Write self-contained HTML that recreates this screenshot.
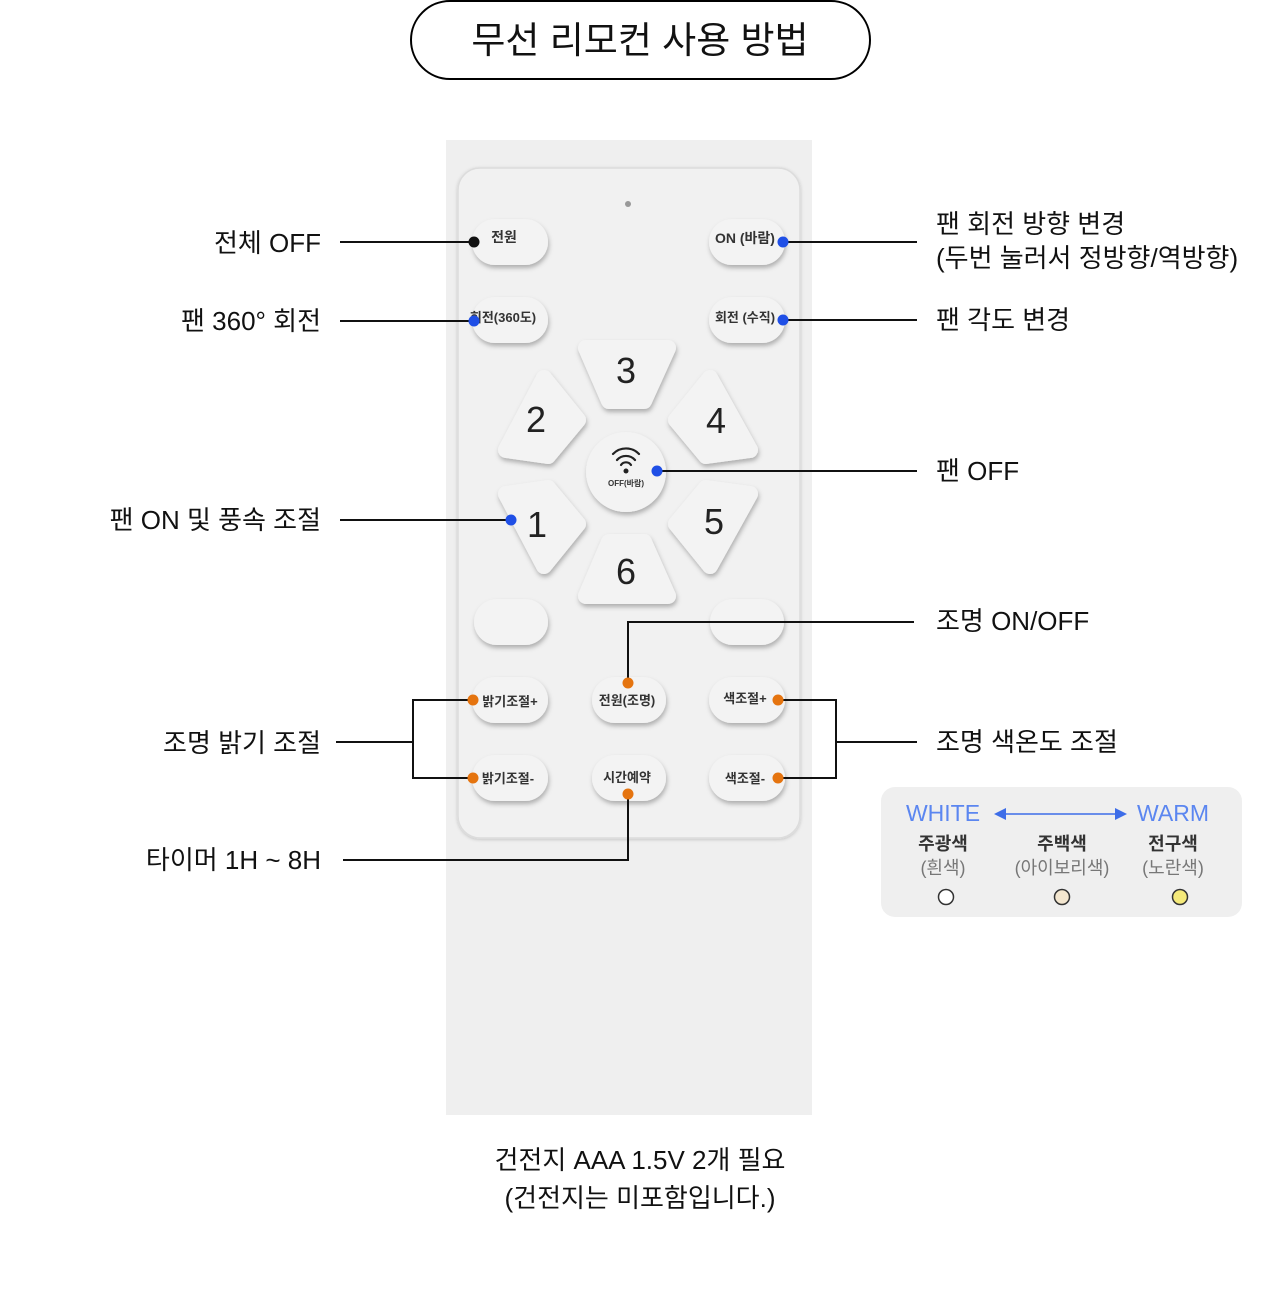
<!DOCTYPE html>
<html><head><meta charset="utf-8"><style>
html,body{margin:0;padding:0;background:#fff;}
svg{display:block;}
text{font-family:"Liberation Sans","Noto Sans CJK KR",sans-serif;}
</style></head><body>
<svg width="1280" height="1314" viewBox="0 0 1280 1314" xmlns="http://www.w3.org/2000/svg">
<defs>
<filter id="sh" x="-30%" y="-30%" width="160%" height="170%"><feDropShadow dx="1" dy="3" stdDeviation="2.5" flood-color="#000" flood-opacity="0.28"/></filter>
<filter id="sh2" x="-5%" y="-5%" width="110%" height="110%"><feDropShadow dx="0" dy="1" stdDeviation="1.5" flood-color="#000" flood-opacity="0.18"/></filter>
</defs>
<!-- title -->
<rect x="411" y="1" width="459" height="78" rx="39" fill="#fff" stroke="#000" stroke-width="2"/>
<text x="640" y="53" font-size="37" text-anchor="middle" fill="#111">무선 리모컨 사용 방법</text>

<!-- remote body -->
<rect x="446" y="140" width="366" height="975" fill="#efefef"/>
<rect x="458" y="168" width="342" height="670" rx="22" fill="#f1f1f1" stroke="#dcdcdc" stroke-width="1.5" filter="url(#sh2)"/>
<circle cx="628" cy="204" r="3" fill="#999"/>

<g fill="#f3f3f3" filter="url(#sh)">
<rect x="472" y="219" width="76" height="46" rx="23"/>
<rect x="709" y="219" width="76" height="46" rx="23"/>
<rect x="472" y="297" width="76" height="46" rx="23"/>
<rect x="709" y="297" width="76" height="46" rx="23"/>
<rect x="474" y="599" width="74" height="46" rx="23"/>
<rect x="710" y="599" width="74" height="46" rx="23"/>
<rect x="472" y="677" width="76" height="46" rx="23"/>
<rect x="592" y="677" width="74" height="46" rx="23"/>
<rect x="709" y="677" width="76" height="46" rx="23"/>
<rect x="472" y="755" width="76" height="46" rx="23"/>
<rect x="592" y="755" width="74" height="46" rx="23"/>
<rect x="709" y="755" width="76" height="46" rx="23"/>
<g stroke="#f3f3f3" stroke-width="16" stroke-linejoin="round">
<polygon points="586,348 668,348 644,401 609,401"/>
<polygon points="609,542 644,542 668,596 586,596"/>
<polygon points="544,378 578,420 548,456 506,450"/>
<polygon points="710,378 676,420 706,456 750,450"/>
<polygon points="506,494 548,488 578,524 544,566"/>
<polygon points="750,494 706,488 676,524 710,566"/>
</g>
<circle cx="626" cy="472" r="40"/>
</g>
<g font-size="14" font-weight="bold" fill="#333" text-anchor="middle">
<text x="504" y="242">전원</text>
<text x="745" y="243">ON (바람)</text>
<text x="503" y="322" font-size="13">회전(360도)</text>
<text x="745" y="322" font-size="13">회전 (수직)</text>
<text x="510" y="706" font-size="13">밝기조절+</text>
<text x="627" y="705" font-size="13">전원(조명)</text>
<text x="745" y="703" font-size="13">색조절+</text>
<text x="508" y="783" font-size="13">밝기조절-</text>
<text x="627" y="782" font-size="13">시간예약</text>
<text x="745" y="783" font-size="13">색조절-</text>
<text x="626" y="486" font-size="8">OFF(바람)</text>
</g>
<g font-size="36" fill="#222" text-anchor="middle">
<text x="626" y="383">3</text>
<text x="536" y="432">2</text>
<text x="716" y="433">4</text>
<text x="537" y="537">1</text>
<text x="714" y="534">5</text>
<text x="626" y="584">6</text>
</g>
<g fill="none" stroke="#222" stroke-width="2.2" stroke-linecap="round">
<path d="M613,454 a18,18 0 0 1 26,0"/>
<path d="M617,460 a12,12 0 0 1 18,0"/>
<path d="M621,465 a6,6 0 0 1 10,0"/>
</g>
<circle cx="626" cy="471" r="2.5" fill="#222"/>

<!-- connectors -->
<g stroke="#111" stroke-width="2" fill="none">
<line x1="340" y1="242" x2="474" y2="242"/>
<line x1="783" y1="242" x2="917" y2="242"/>
<line x1="340" y1="321" x2="474" y2="321"/>
<line x1="783" y1="320" x2="917" y2="320"/>
<line x1="657" y1="471" x2="917" y2="471"/>
<line x1="340" y1="520" x2="511" y2="520"/>
<polyline points="628,683 628,622 914,622"/>
<polyline points="473,700 413,700 413,778 473,778"/>
<line x1="336" y1="742" x2="413" y2="742"/>
<polyline points="778,700 836,700 836,778 778,778"/>
<line x1="836" y1="742" x2="917" y2="742"/>
<polyline points="628,794 628,860 343,860"/>
</g>
<circle cx="474" cy="242" r="5.5" fill="#111"/>
<g fill="#1f4fe6">
<circle cx="783" cy="242" r="5.5"/><circle cx="474" cy="321" r="5.5"/><circle cx="783" cy="320" r="5.5"/>
<circle cx="657" cy="471" r="5.5"/><circle cx="511" cy="520" r="5.5"/>
</g>
<g fill="#e5740f">
<circle cx="628" cy="683" r="5.5"/><circle cx="473" cy="700" r="5.5"/><circle cx="473" cy="778" r="5.5"/>
<circle cx="778" cy="700" r="5.5"/><circle cx="778" cy="778" r="5.5"/><circle cx="628" cy="794" r="5.5"/>
</g>

<!-- labels -->
<g font-size="26" fill="#111">
<g text-anchor="end">
<text x="321" y="252">전체 OFF</text>
<text x="321" y="330">팬 360° 회전</text>
<text x="321" y="529">팬 ON 및 풍속 조절</text>
<text x="321" y="752">조명 밝기 조절</text>
<text x="321" y="869">타이머 1H ~ 8H</text>
</g>
<text x="936" y="233">팬 회전 방향 변경</text>
<text x="936" y="267">(두번 눌러서 정방향/역방향)</text>
<text x="936" y="329">팬 각도 변경</text>
<text x="936" y="480">팬 OFF</text>
<text x="936" y="630">조명 ON/OFF</text>
<text x="936" y="751">조명 색온도 조절</text>
</g>

<!-- color legend -->
<rect x="881" y="787" width="361" height="130" rx="14" fill="#efefef"/>
<g font-size="23" fill="#5b86f0">
<text x="943" y="821" text-anchor="middle">WHITE</text>
<text x="1173" y="821" text-anchor="middle">WARM</text>
</g>
<line x1="1000" y1="814" x2="1120" y2="814" stroke="#3d6de8" stroke-width="1.5"/>
<polygon points="994,814 1006,808 1006,820" fill="#3d6de8"/>
<polygon points="1127,814 1115,808 1115,820" fill="#3d6de8"/>
<g font-size="18" font-weight="bold" fill="#333" text-anchor="middle">
<text x="943" y="850">주광색</text><text x="1062" y="850">주백색</text><text x="1173" y="850">전구색</text>
</g>
<g font-size="18" fill="#777" text-anchor="middle">
<text x="943" y="874">(흰색)</text><text x="1062" y="874">(아이보리색)</text><text x="1173" y="874">(노란색)</text>
</g>
<circle cx="946" cy="897" r="7.5" fill="#fff" stroke="#333" stroke-width="1.5"/>
<circle cx="1062" cy="897" r="7.5" fill="#f3e6cf" stroke="#333" stroke-width="1.5"/>
<circle cx="1180" cy="897" r="7.5" fill="#f5ea7a" stroke="#333" stroke-width="1.5"/>

<!-- bottom note -->
<g font-size="26" fill="#111" text-anchor="middle">
<text x="640" y="1169">건전지 AAA 1.5V 2개 필요</text>
<text x="640" y="1207">(건전지는 미포함입니다.)</text>
</g>
</svg>
</body></html>
